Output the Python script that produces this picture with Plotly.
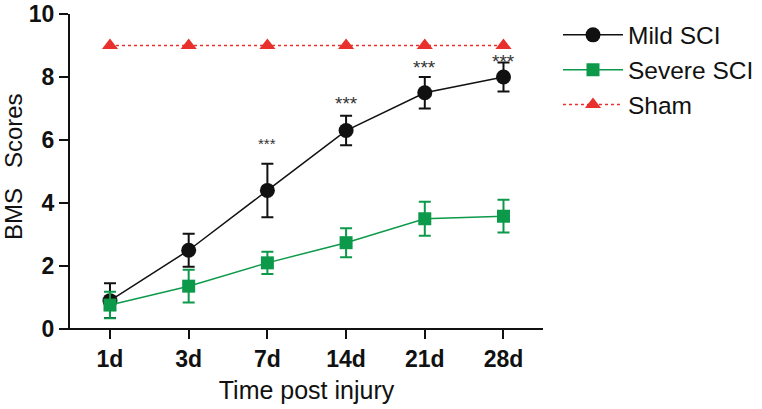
import plotly.graph_objects as go

days = ["1d", "3d", "7d", "14d", "21d", "28d"]
mild_mean = [0.9, 2.5, 4.4, 6.3, 7.5, 8.0]
mild_err = [0.55, 0.52, 0.85, 0.47, 0.5, 0.46]
severe_mean = [0.76, 1.36, 2.1, 2.74, 3.5, 3.58]
severe_err = [0.42, 0.52, 0.35, 0.46, 0.54, 0.52]
sham_mean = [9, 9, 9, 9, 9, 9]
star_days = ["7d", "14d", "21d", "28d"]
star_y = [6.0, 7.24, 8.4, 8.6]
y_ticks = [0, 2, 4, 6, 8, 10]

FONT = "Arial, Liberation Sans, sans-serif"
BLACK = "#111111"
GREEN = "#0c9a4a"
RED = "#e8302c"
star_sizes = [15, 19, 19, 19]

fig = go.Figure()
fig.add_trace(go.Scatter(
    x=days, y=mild_mean, name="Mild SCI", mode="lines+markers",
    line=dict(color=BLACK, width=1.5),
    marker=dict(symbol="circle", size=15, color=BLACK),
    error_y=dict(type="data", array=mild_err, color=BLACK, thickness=2, width=6),
))
fig.add_trace(go.Scatter(
    x=days, y=severe_mean, name="Severe SCI", mode="lines+markers",
    line=dict(color=GREEN, width=1.5),
    marker=dict(symbol="square", size=13, color=GREEN),
    error_y=dict(type="data", array=severe_err, color=GREEN, thickness=2, width=6),
))
fig.add_trace(go.Scatter(
    x=days, y=sham_mean, name="Sham", mode="lines+markers",
    line=dict(color=RED, width=1.5, dash="dot"),
    marker=dict(symbol="triangle-up", size=14, color=RED),
))

for d, yv, fs in zip(star_days, star_y, star_sizes):
    fig.add_annotation(x=d, y=yv, text="***", showarrow=False,
                       font=dict(family=FONT, size=fs, color="#333333"),
                       xanchor="center", yanchor="middle", yshift=-3)

fig.add_shape(type="line", xref="paper", yref="paper", x0=-0.017, x1=1, y0=0, y1=0,
              line=dict(color=BLACK, width=2))

# y-axis title as an annotation for exact placement
fig.add_annotation(xref="paper", yref="paper", x=-0.1205, y=0.514, text="BMS   Scores",
                   textangle=-90, showarrow=False, xanchor="center", yanchor="middle",
                   font=dict(family=FONT, size=24, color=BLACK))

fig.update_layout(
    width=762, height=409,
    margin=dict(l=70, r=219, t=14, b=80, autoexpand=False),
    paper_bgcolor="white", plot_bgcolor="white",
    font=dict(family=FONT, color=BLACK),
    showlegend=True,
    legend=dict(x=1.0317, y=1.005, xanchor="left", yanchor="top",
                font=dict(family=FONT, size=24.5, color=BLACK),
                bgcolor="rgba(0,0,0,0)", tracegroupgap=0, itemwidth=60),
)
fig.update_xaxes(
    type="category", categoryorder="array", categoryarray=days,
    range=[-0.508, 5.502], showline=False, showgrid=False, zeroline=False,
    automargin=False,
    ticks="outside", ticklen=9, tickwidth=2, tickcolor=BLACK,
    tickfont=dict(family=FONT, size=23, color=BLACK, weight="bold"),
    title=dict(text="Time post injury", font=dict(family=FONT, size=25, color=BLACK), standoff=10),
)
fig.update_yaxes(
    range=[0, 10], tickvals=y_ticks, showline=True, linecolor=BLACK, linewidth=2,
    showgrid=False, zeroline=False, automargin=False, ticklabeloverflow="allow",
    ticks="outside", ticklen=9, tickwidth=2, tickcolor=BLACK,
    tickfont=dict(family=FONT, size=23, color=BLACK, weight="bold"),
)

fig.write_html("out.html", config={"displayModeBar": False},
               post_script="document.body.style.margin='0';")
